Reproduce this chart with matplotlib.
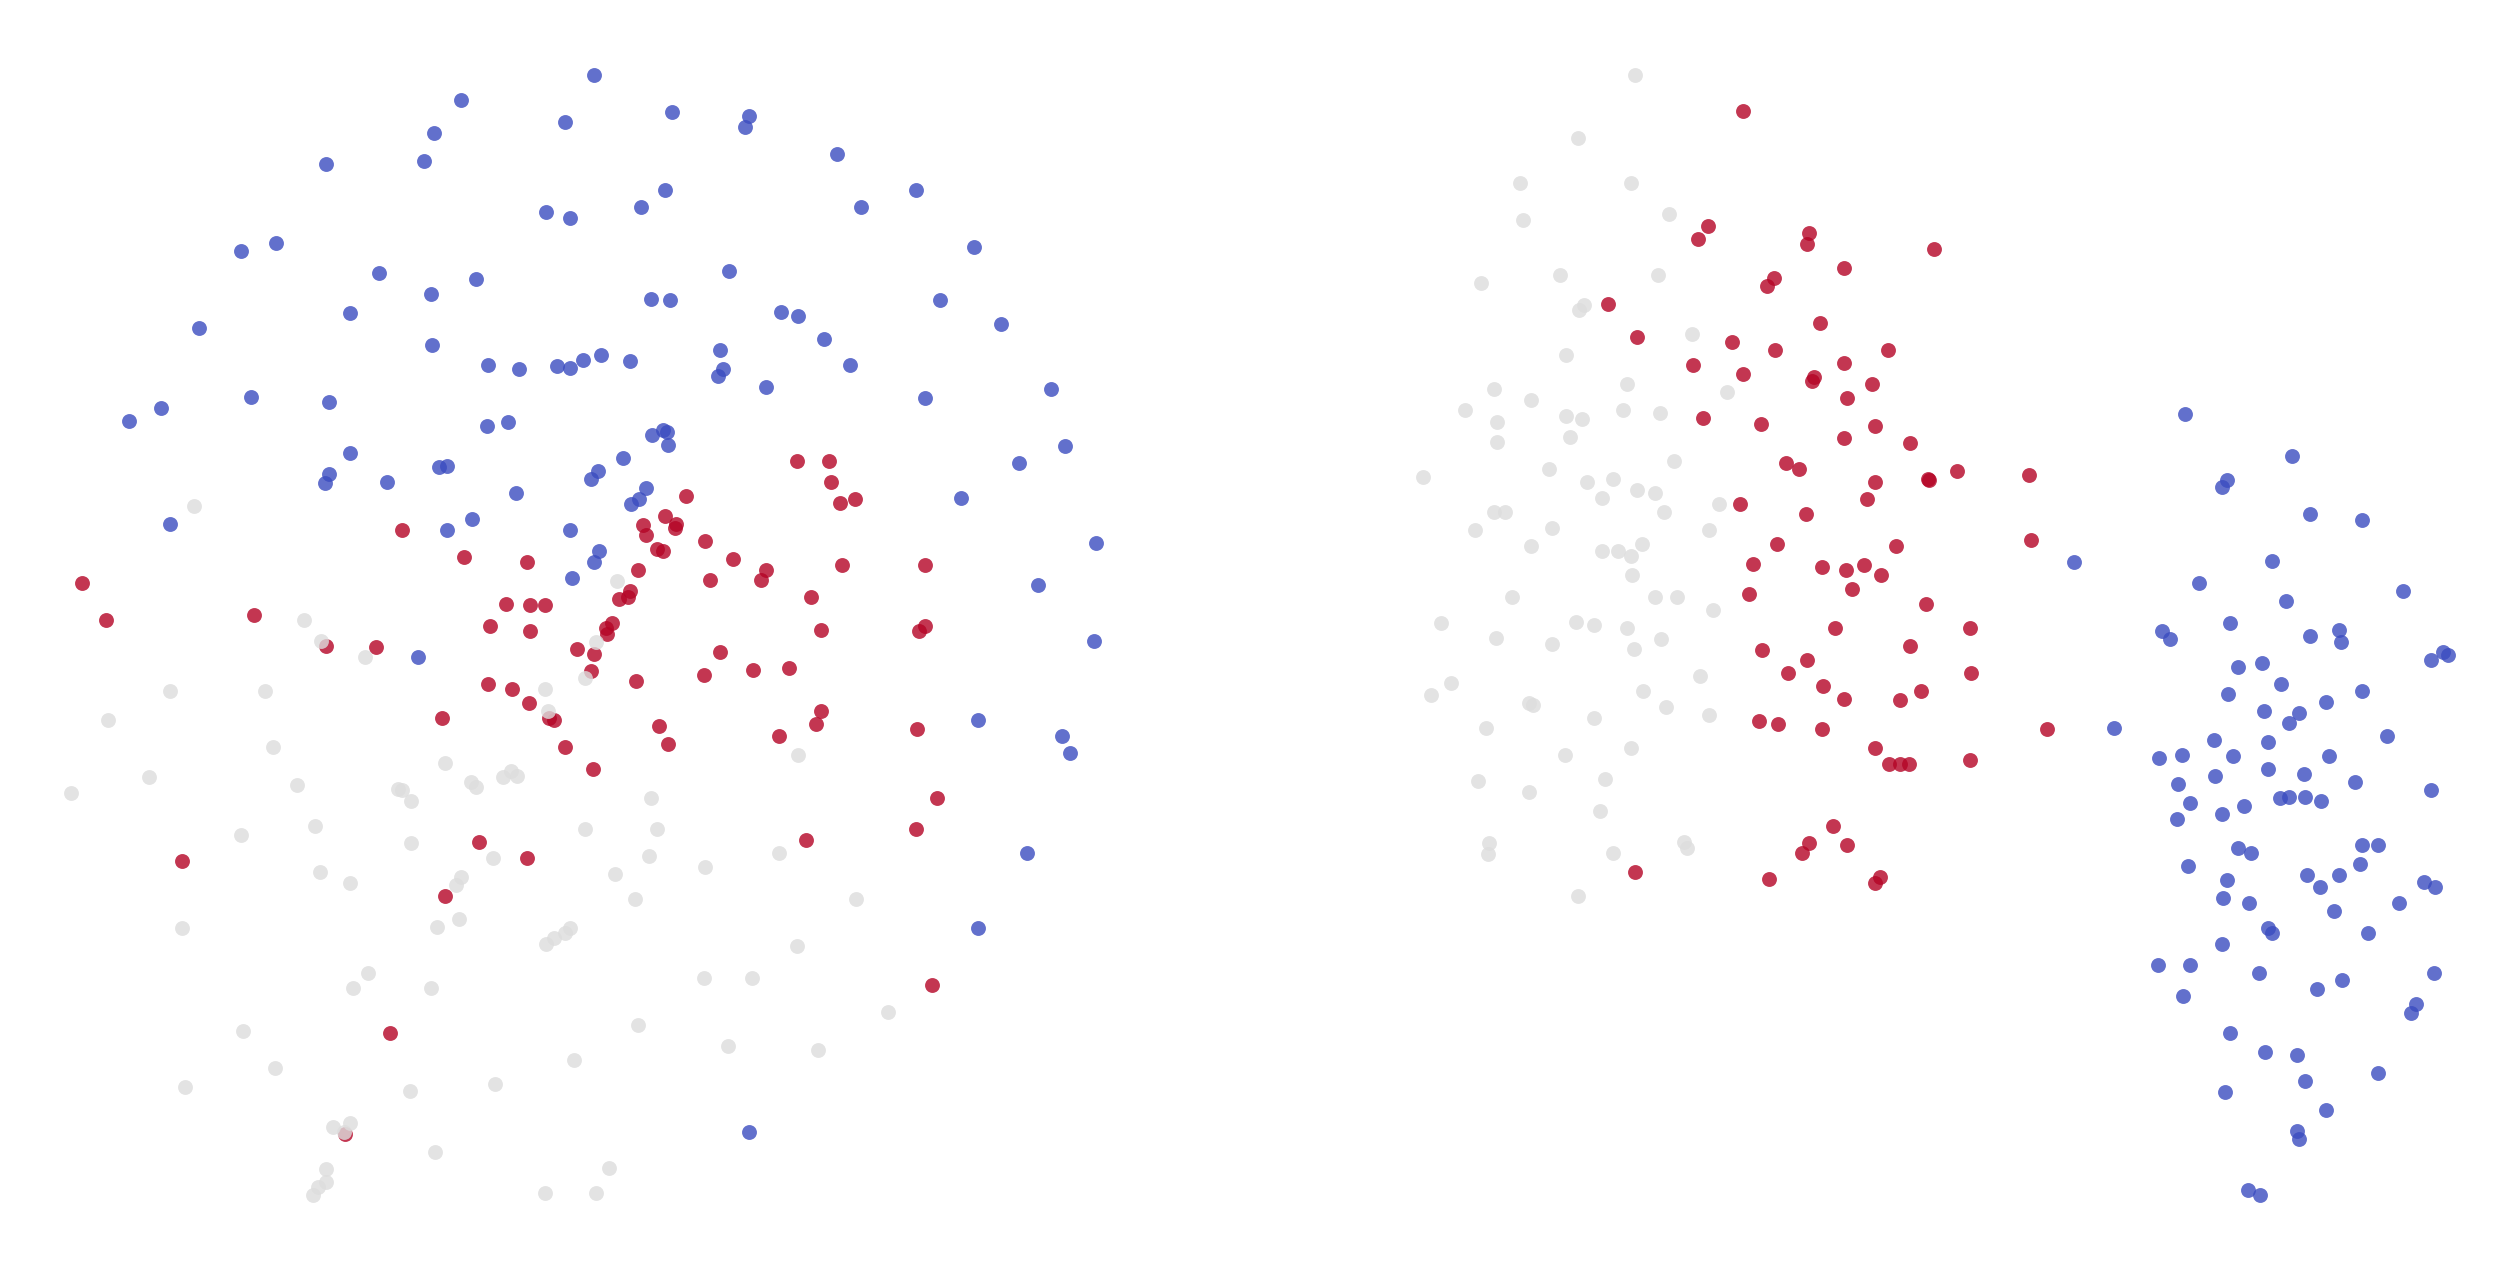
import matplotlib.pyplot as plt

# Point positions (x, y), y grows downward
left_blue = [
    (370, 47), (287, 62), (418, 70), (466, 72), (464, 79), (352, 76), (270, 83), (203, 102), (264, 100), (521, 96),
    (414, 118), (570, 118), (340, 132), (355, 136), (399, 129), (536, 129), (150, 156), (172, 151), (606, 154), (236, 170),
    (454, 169), (296, 174), (268, 183), (405, 186), (417, 187), (585, 187), (218, 195), (486, 194), (497, 197), (124, 204),
    (623, 202), (513, 211), (269, 215), (448, 218), (304, 227), (323, 230), (347, 228), (355, 229), (363, 224), (374, 221),
    (392, 225), (529, 227), (450, 230), (447, 234), (477, 241), (156, 247), (205, 250), (576, 248), (654, 242), (80, 262),
    (100, 254), (303, 265), (316, 263), (413, 268), (415, 269), (416, 277), (406, 271), (663, 278), (218, 282), (273, 291),
    (278, 290), (388, 285), (634, 288), (205, 295), (202, 301), (241, 300), (372, 293), (368, 298), (321, 307), (402, 304),
    (398, 311), (393, 314), (598, 310), (106, 326), (294, 323), (278, 330), (355, 330), (682, 338), (373, 343), (370, 350),
    (356, 360), (646, 364), (681, 399), (260, 409), (609, 448), (661, 458), (666, 469), (639, 531), (609, 578), (466, 705),
]

left_red = [
    (250, 330), (289, 347), (328, 350), (51, 363), (66, 386), (158, 383), (203, 402), (234, 403), (305, 390), (315, 376),
    (330, 377), (339, 377), (330, 393), (381, 388), (377, 391), (378, 395), (359, 404), (370, 407), (368, 418), (304, 426),
    (319, 429), (329, 438), (275, 447), (342, 447), (345, 448), (352, 465), (369, 479), (298, 524), (328, 534), (113, 536),
    (277, 558), (243, 643), (215, 706),
    (496, 287), (516, 287), (517, 300), (523, 313), (532, 311), (427, 309), (414, 321), (421, 326), (420, 329), (400, 327),
    (402, 333), (439, 337), (409, 342), (413, 343), (456, 348), (477, 355), (474, 361), (524, 352), (576, 352), (397, 355),
    (442, 361), (505, 372), (392, 368), (391, 372), (385, 373),
    (511, 392), (576, 390), (572, 393), (448, 406), (438, 420), (469, 417), (491, 416), (396, 424), (511, 443), (508, 451),
    (571, 454), (410, 452), (416, 463), (485, 458), (583, 497), (570, 516), (502, 523), (580, 613),
]

left_grey = [
    (121, 315), (384, 362), (189, 386), (200, 399), (227, 409), (106, 430), (165, 430), (67, 448), (170, 465), (93, 484),
    (44, 494), (185, 489), (248, 491), (250, 492), (256, 499), (277, 475), (293, 487), (296, 490), (313, 484), (318, 480),
    (322, 483), (339, 429), (341, 443), (371, 400), (364, 422), (196, 514), (150, 520), (256, 525), (364, 516), (307, 534),
    (287, 546), (284, 551), (199, 543), (218, 550), (113, 578), (272, 577), (286, 572), (355, 578), (352, 581), (345, 584),
    (340, 588), (229, 606), (220, 615), (268, 615), (151, 642), (171, 665), (115, 677), (255, 679), (308, 675), (357, 660),
    (207, 702), (218, 699), (214, 705), (271, 717), (203, 728), (203, 736), (198, 739), (195, 744), (339, 743), (371, 743),
    (379, 727), (497, 470), (405, 497), (409, 516), (404, 533), (439, 540), (383, 544), (485, 531), (395, 560), (533, 560),
    (496, 589), (438, 609), (468, 609), (553, 630), (397, 638), (453, 651), (509, 654),
]

right_grey = [
    (1018, 47), (982, 86), (946, 114), (1015, 114), (948, 137), (1039, 133), (922, 176), (971, 171), (1032, 171), (986, 190),
    (983, 193), (1053, 208), (975, 221), (1013, 239), (930, 242), (953, 249), (912, 255), (932, 263), (932, 275), (975, 259),
    (985, 261), (977, 272), (1010, 255), (1033, 257), (1075, 244), (1042, 287), (886, 297), (964, 292), (988, 300), (1004, 298),
    (1019, 305), (1030, 307), (997, 310), (1036, 319), (1070, 314), (930, 319), (937, 319), (918, 330), (966, 329), (953, 340),
    (997, 343), (1007, 343), (1015, 346), (1022, 339), (1064, 330), (1016, 358), (941, 372), (1030, 372), (1044, 372), (1066, 380),
    (897, 388), (931, 397), (966, 401), (981, 387), (992, 389), (1013, 391), (1017, 404), (1034, 398), (1058, 421), (903, 425),
    (891, 433), (952, 438), (954, 439), (1023, 430), (1037, 440), (1064, 445), (925, 453), (992, 447), (1015, 466), (974, 470),
    (920, 486), (952, 493), (999, 485), (996, 505), (927, 525), (926, 532), (1004, 531), (1048, 524), (1050, 528), (982, 558),
]

right_red = [
    (1085, 69), (1063, 141), (1057, 149), (1126, 145), (1125, 152), (1204, 155), (1148, 167), (1104, 173), (1100, 178), (1001, 189),
    (1133, 201), (1019, 210), (1078, 213), (1105, 218), (1175, 218), (1054, 227), (1085, 233), (1148, 226), (1129, 235), (1128, 237),
    (1165, 239), (1150, 248), (1060, 260), (1096, 264), (1167, 265), (1148, 273), (1189, 276), (1112, 288), (1120, 292), (1218, 293),
    (1200, 298), (1201, 299), (1167, 300), (1162, 311), (1083, 314), (1124, 320), (1106, 339), (1180, 340), (1091, 351), (1134, 353),
    (1149, 355), (1160, 352), (1171, 358), (1153, 367), (1089, 370), (1199, 376),
    (1142, 391), (1189, 402), (1097, 405), (1125, 411), (1113, 419), (1135, 427), (1148, 435), (1196, 430), (1183, 436), (1095, 449),
    (1107, 451), (1134, 454), (1167, 466), (1176, 476), (1183, 476), (1188, 476), (1141, 514), (1126, 525), (1122, 531), (1150, 526),
    (1018, 543), (1101, 547), (1170, 546), (1167, 550),
    (1263, 296), (1264, 336), (1226, 391), (1227, 419), (1274, 454), (1226, 473),
]

right_blue = [
    (1360, 258), (1427, 284), (1386, 299), (1383, 303), (1438, 320), (1470, 324), (1291, 350), (1414, 349), (1369, 363), (1423, 374),
    (1496, 368), (1388, 388), (1346, 393), (1351, 398), (1438, 396), (1456, 392), (1457, 400), (1521, 406), (1524, 408), (1513, 411),
    (1393, 415), (1408, 413), (1420, 426), (1387, 432), (1448, 437), (1470, 430), (1409, 443), (1431, 444), (1425, 450), (1316, 453),
    (1378, 461), (1412, 462), (1486, 458), (1344, 472), (1358, 470), (1390, 471), (1450, 471), (1412, 479), (1379, 483), (1434, 482),
    (1466, 487), (1356, 488), (1513, 492), (1363, 500), (1397, 502), (1419, 497), (1425, 496), (1435, 496), (1445, 499), (1355, 510),
    (1383, 507), (1393, 528), (1401, 531), (1470, 526), (1480, 526),
    (1362, 539), (1469, 538), (1386, 548), (1436, 545), (1456, 545), (1444, 552), (1509, 549), (1516, 552), (1384, 559), (1400, 562),
    (1453, 567), (1493, 562), (1412, 578), (1414, 581), (1474, 581), (1383, 588), (1343, 601), (1363, 601), (1406, 606), (1442, 616),
    (1458, 610), (1515, 606), (1504, 625), (1501, 631), (1359, 620), (1388, 643), (1410, 655), (1430, 657), (1435, 673), (1480, 668),
    (1385, 680), (1448, 691), (1430, 704), (1431, 709), (1399, 741), (1407, 744),
]

blue = '#3b4cc0'
red = '#b40426'
grey = '#dddddd'


def draw(ax, points, color):
    xs = [p[0] for p in points]
    ys = [p[1] for p in points]
    ax.scatter(xs, ys, s=115, c=color, alpha=0.8, linewidths=0)


fig = plt.figure(figsize=(25.19, 12.72), dpi=100)

# left panel
ax1 = fig.add_axes([0, 0, 0.5, 1])
draw(ax1, left_blue, blue)
draw(ax1, left_red, red)
draw(ax1, left_grey, grey)
ax1.set_xlim(0, 784)
ax1.set_ylim(792, 0)
ax1.axis('off')

# right panel
ax2 = fig.add_axes([0.5, 0, 0.5, 1])
draw(ax2, right_blue, blue)
draw(ax2, right_red, red)
draw(ax2, right_grey, grey)
ax2.set_xlim(784, 1568)
ax2.set_ylim(792, 0)
ax2.axis('off')

fig.savefig('out.png', dpi=100)
